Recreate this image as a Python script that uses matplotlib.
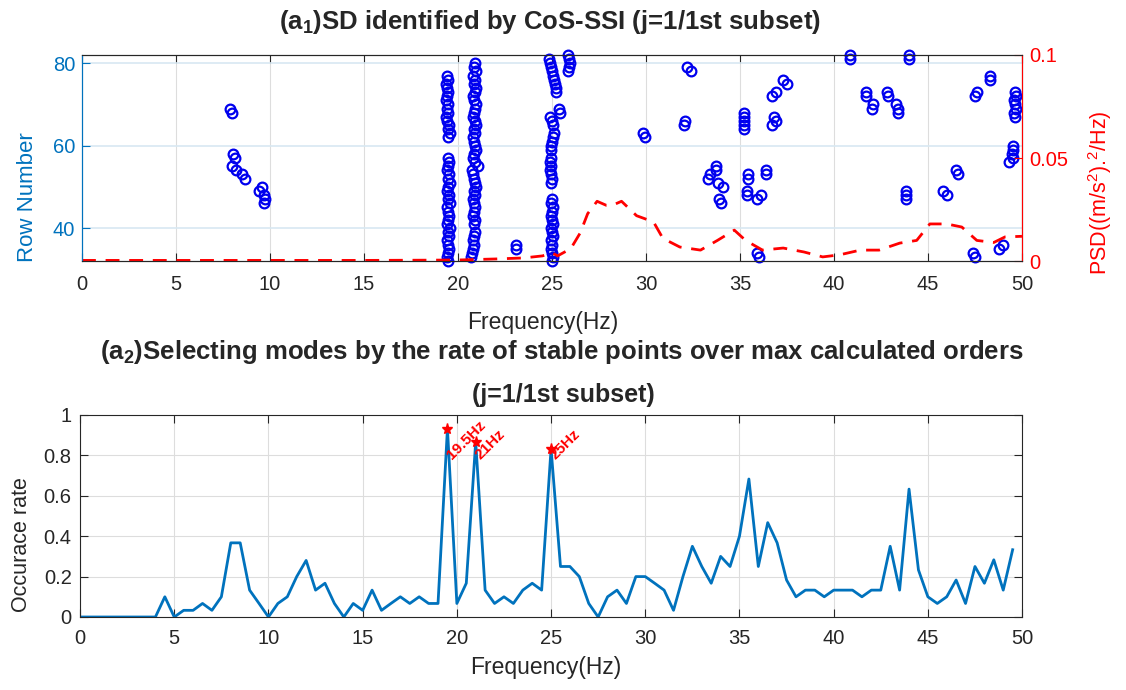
import matplotlib
matplotlib.use("Agg")
import matplotlib.pyplot as plt
import numpy as np

plt.rcParams['font.family'] = ['Liberation Sans', 'DejaVu Sans']
plt.rcParams['mathtext.fontset'] = 'custom'
plt.rcParams['mathtext.rm'] = 'Liberation Sans'
plt.rcParams['mathtext.bf'] = 'Liberation Sans:bold'

# ---- stabilization diagram (top) ----
# dense column near 19.5 Hz
col19_row = [77, 76, 75, 74, 73, 72, 71, 70, 69, 68, 67, 66, 65, 64, 63, 62,
             57, 56, 55, 54, 53, 52, 51, 50, 49, 48, 47, 46, 45, 44, 43, 42, 41, 40,
             39, 38, 37, 36, 35, 34, 33, 32]
col19_freq = [19.40, 19.45, 19.35, 19.40, 19.45, 19.40, 19.35, 19.45, 19.40, 19.45, 19.35, 19.40,
              19.50, 19.45, 19.60, 19.45,
              19.45, 19.50, 19.45, 19.40, 19.50, 19.45, 19.55, 19.45, 19.40, 19.50, 19.45, 19.55,
              19.40, 19.45, 19.50, 19.45, 19.40, 19.55, 19.45, 19.50, 19.40, 19.45, 19.50, 19.45,
              19.40, 19.45]
# dense column near 21 Hz
col21_row = [80, 79, 78, 77, 76, 75, 74, 73, 72, 71, 70, 69, 68, 67, 66, 65, 64, 63, 62, 61,
             60, 59, 58, 57, 56, 55, 54, 53, 52, 51, 50, 49, 48, 47, 46, 45, 44, 43, 42, 41,
             39, 38, 37, 36, 35, 34, 33]
col21_freq = [20.90, 20.85, 20.95, 20.80, 20.90, 20.85, 20.95, 20.90, 20.80, 20.85,
              20.95, 20.90, 20.85, 20.80, 20.90, 20.95, 20.85, 20.90, 20.80, 20.85,
              20.90, 20.95, 20.85, 20.80, 20.90, 21.05, 20.75, 20.80, 20.85, 20.90,
              20.95, 20.85, 20.90, 20.80, 20.85, 20.90, 20.85, 20.80, 20.90, 20.85,
              20.90, 20.85, 20.80, 20.85, 20.80, 20.75, 20.70]
# column near 25 Hz
col25_row = [81, 80, 79, 78, 77, 76, 75, 74, 73, 69, 68, 67, 66, 65,
             63, 62, 61, 60, 59, 57, 56, 55, 54, 53, 52, 51,
             47, 46, 45, 44, 43, 42, 41, 40, 39, 38, 37, 36, 35, 34, 33, 32]
col25_freq = [24.85, 24.90, 24.95, 25.00, 25.05, 25.10, 25.15, 25.20, 25.20,
              25.40, 25.45, 24.90, 25.00, 25.05,
              25.10, 25.05, 25.00, 24.95, 24.95, 24.95, 24.90, 24.95, 24.90, 24.95, 25.00, 24.95,
              25.00, 24.95, 25.05, 25.00, 24.95, 25.00, 25.05, 24.95, 25.00, 25.05, 24.95, 25.00,
              24.95, 25.00, 25.05, 25.00]
# scattered poles
pts_freq = [7.85, 8.0, 8.05, 8.15, 8.0, 8.2, 8.5, 8.65, 9.6, 9.4, 9.7, 9.75, 9.7,
            23.1, 23.1, 25.85, 25.9, 25.95, 25.9, 25.85, 29.85, 29.95,
            32.2, 32.4, 32.1, 32.0, 33.7, 33.7, 33.4, 33.3, 33.85, 34.1, 33.9, 34.0,
            35.2, 35.2, 35.2, 35.2, 35.2, 35.45, 35.45, 35.35, 35.35, 36.1, 35.9,
            36.4, 36.4, 35.9, 36.0, 37.3, 37.5, 36.9, 36.7, 36.8, 36.9, 36.7,
            40.85, 40.85, 44.0, 44.0, 41.7, 41.7, 42.1, 42.0, 42.8, 42.9, 43.3, 43.4, 43.4,
            43.85, 43.85, 43.85, 45.8, 46.0, 46.5, 46.6, 47.4, 47.5, 48.8, 49.0,
            47.5, 47.6, 48.3, 48.3,
            49.65, 49.7, 49.6, 49.65, 49.7, 49.6, 49.65, 49.5, 49.55, 49.45, 49.5, 49.3]
pts_row = [69, 68, 58, 57, 55, 54, 53, 52, 50, 49, 48, 47, 46,
           36, 35, 82, 81, 80, 79, 78, 63, 62,
           79, 78, 66, 65, 55, 54, 53, 52, 51, 50, 47, 46,
           68, 67, 66, 65, 64, 53, 52, 49, 48, 48, 47,
           54, 53, 34, 33, 76, 75, 73, 72, 67, 66, 65,
           82, 81, 82, 81, 73, 72, 70, 69, 73, 72, 70, 69, 68,
           49, 48, 47, 49, 48, 54, 53, 34, 33, 35, 36,
           72, 73, 77, 76,
           73, 72, 71, 70, 69, 68, 67, 60, 59, 58, 57, 56]

# PSD curve (right axis)
psd_freq = [0, 5, 10, 15, 18, 20, 22, 23.5, 24.5, 25, 25.3, 26, 26.5, 26.9, 27.4, 27.9,
            28.2, 28.7, 29.5, 30.4, 30.9, 31.8, 32.9, 33.8, 34.7, 35.3, 36.2, 37.3, 38.4,
            39.4, 40.3, 41.4, 42.4, 43.5, 44.4, 45.1, 46.0, 46.8, 47.6, 48.5, 49.1, 50]
psd_val = [0.0003, 0.0003, 0.0003, 0.0003, 0.0004, 0.0005, 0.001, 0.0015, 0.0025, 0.004,
           0.0025, 0.006, 0.0136, 0.023, 0.029, 0.027, 0.027, 0.029, 0.022, 0.019, 0.011,
           0.0068, 0.0053, 0.010, 0.015, 0.010, 0.0053, 0.0063, 0.0044, 0.002, 0.003,
           0.0053, 0.0053, 0.0087, 0.010, 0.018, 0.018, 0.0165, 0.010, 0.009, 0.0117, 0.012]

# ---- occurrence rate (bottom), 0.5 Hz bins from 0 to 49.5 Hz ----
rate_freq = np.arange(0, 50, 0.5)
rate = [0, 0, 0, 0, 0, 0, 0, 0, 0, 0.1,
        0, 0.033, 0.033, 0.067, 0.033, 0.1, 0.367, 0.367, 0.133, 0.067,
        0, 0.067, 0.1, 0.2, 0.28, 0.133, 0.167, 0.067, 0, 0.067,
        0.033, 0.133, 0.033, 0.067, 0.1, 0.067, 0.1, 0.067, 0.067, 0.933,
        0.067, 0.167, 0.867, 0.133, 0.067, 0.1, 0.067, 0.133, 0.167, 0.133,
        0.833, 0.25, 0.25, 0.2, 0.067, 0, 0.1, 0.133, 0.067, 0.2,
        0.2, 0.167, 0.133, 0.033, 0.2, 0.35, 0.25, 0.167, 0.3, 0.25,
        0.4, 0.683, 0.25, 0.467, 0.367, 0.183, 0.1, 0.133, 0.133, 0.1,
        0.133, 0.133, 0.133, 0.1, 0.133, 0.133, 0.35, 0.133, 0.633, 0.233,
        0.1, 0.067, 0.1, 0.183, 0.067, 0.25, 0.167, 0.283, 0.133, 0.333]
peak_freq = [19.5, 21, 25]
peak_rate = [0.933, 0.867, 0.833]
peak_label = ['19.5Hz', '21Hz', '25Hz']

mblue = '#0072BD'
dark = '#262626'

fig = plt.figure(figsize=(11.26, 6.9), dpi=100)
ax1 = fig.add_axes([0.0728, 0.6217, 0.8348, 0.2986])
ax2 = ax1.twinx()
ax3 = fig.add_axes([0.0711, 0.1058, 0.8366, 0.2928])

# top
for fr, rw in [(col19_freq, col19_row), (col21_freq, col21_row),
               (col25_freq, col25_row), (pts_freq, pts_row)]:
    ax1.plot(fr, rw, 'o', mfc='none', mec='#0000EE', ms=7, mew=1.6, clip_on=False, zorder=3)
ax2.plot(psd_freq, psd_val, '--', color='r', lw=2, dashes=(5, 3.5))

ax1.set_xlim(0, 50)
ax1.set_ylim(32, 82)
ax2.set_ylim(0, 0.1)
ax1.set_xticks(range(0, 51, 5))
ax1.set_yticks([40, 60, 80])
ax2.set_yticks([0, 0.05, 0.1])
ax2.set_yticklabels(['0', '0.05', '0.1'])
ax1.xaxis.grid(True, color='#dddddd', lw=0.8)
ax1.yaxis.grid(True, color='#d8e8f2', lw=1.2)
ax1.set_axisbelow(True)
ax1.tick_params(axis='x', direction='in', top=True, length=6, labelsize=14.5, colors=dark, pad=10)
ax1.tick_params(axis='y', direction='in', length=6, labelsize=14.5, colors=mblue, pad=5)
ax2.tick_params(axis='y', direction='in', length=6, labelsize=14.5, colors='r', pad=5)
for s in ['top', 'bottom']:
    ax1.spines[s].set_color(dark)
ax1.spines['left'].set_color(mblue)
ax2.spines['left'].set_color(mblue)
ax2.spines['right'].set_color('r')
for s in ['top', 'bottom']:
    ax2.spines[s].set_color(dark)

ax1.set_xlabel('Frequency(Hz)', fontsize=16.5, color=dark, va='center')
ax1.xaxis.set_label_coords(0.49, -0.296)
ax1.set_ylabel('Row Number', fontsize=16, color=mblue, va='center')
ax1.yaxis.set_label_coords(-0.058, 0.31)
ax2.set_ylabel(r'PSD((m/s$^2$).$^2$/Hz)', fontsize=15.5, color='r', va='center')
ax2.yaxis.set_label_coords(1.083, 0.33)

fig.text(0.488, 0.968, r'(a$_\mathbf{1}$)SD identified by CoS-SSI (j=1/1st subset)',
         ha='center', va='center', fontsize=18.5, fontweight='bold', color=dark)

# bottom
ax3.plot(rate_freq, rate, color=mblue, lw=2)
ax3.plot(peak_freq, peak_rate, '*', color='r', ms=8)
for f, lab in zip(peak_freq, peak_label):
    ax3.text(f + 0.1, 0.79, lab, rotation=45, rotation_mode='anchor', ha='left', va='center',
             color='r', fontweight='bold', fontsize=11)
ax3.set_xlim(0, 50)
ax3.set_ylim(0, 1)
ax3.set_xticks(range(0, 51, 5))
ax3.set_yticks([0, 0.2, 0.4, 0.6, 0.8, 1])
ax3.set_yticklabels(['0', '0.2', '0.4', '0.6', '0.8', '1'])
ax3.grid(True, color='#dddddd', lw=0.8)
ax3.set_axisbelow(True)
ax3.tick_params(direction='in', top=True, right=True, length=6, labelsize=14.5, colors=dark, pad=9)
ax3.tick_params(axis='y', pad=6)
for s in ax3.spines.values():
    s.set_color(dark)
ax3.set_xlabel('Frequency(Hz)', fontsize=16.5, color=dark, va='center')
ax3.xaxis.set_label_coords(0.494, -0.25)
ax3.set_ylabel('Occurace rate', fontsize=15.5, color=dark, va='center')
ax3.yaxis.set_label_coords(-0.062, 0.36)

fig.text(0.4987, 0.490, r'(a$_\mathbf{2}$)Selecting modes by the rate of stable points over max calculated orders',
         ha='center', va='center', fontsize=18.5, fontweight='bold', color=dark)
fig.text(0.5, 0.4275, '(j=1/1st subset)', ha='center', va='center', fontsize=18,
         fontweight='bold', color=dark)

fig.savefig('out.png', dpi=100)
